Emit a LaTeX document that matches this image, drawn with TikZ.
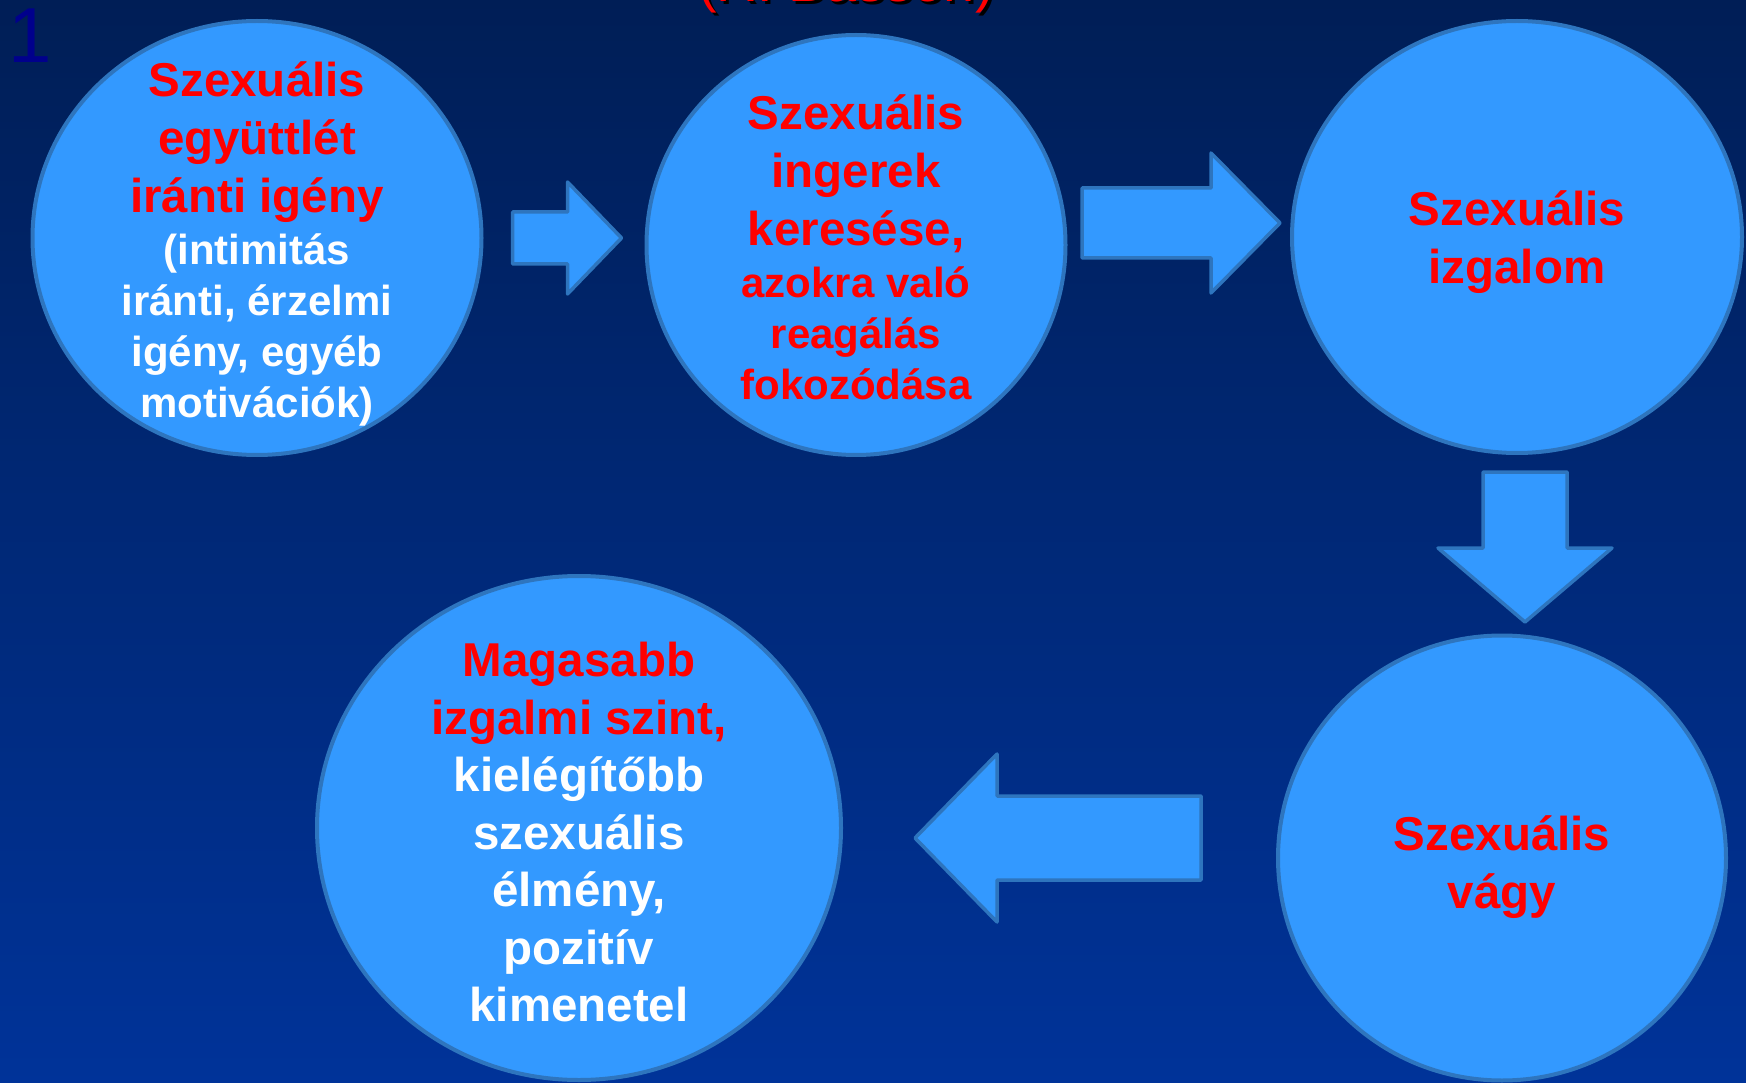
\documentclass[tikz,border=0pt]{standalone}
\usepackage{fontspec}
\setmainfont{Liberation Sans}
\usetikzlibrary{shapes.geometric}

\definecolor{bgtop}{RGB}{0,30,86}
\definecolor{bgbottom}{RGB}{0,51,153}
\definecolor{bubblefill}{RGB}{51,153,255}
\definecolor{bubbleline}{RGB}{46,117,190}
\definecolor{numblue}{RGB}{0,0,140}

\begin{document}
\begin{tikzpicture}[x=1pt,y=-1pt,
  bubble/.style={ellipse,draw=bubbleline,fill=bubblefill,line width=4pt,inner sep=0pt},
  bigarrow/.style={draw=bubbleline,fill=bubblefill,line width=3.5pt,line join=round},
  redbig/.style={text=red,font=\bfseries\fontsize{47.5}{58}\selectfont,align=center,inner sep=0pt},
  redsmall/.style={text=red,font=\bfseries\fontsize{42}{51}\selectfont,align=center,inner sep=0pt},
  whitebig/.style={text=white,font=\bfseries\fontsize{47.5}{57.5}\selectfont,align=center,inner sep=0pt},
  whitesmall/.style={text=white,font=\bfseries\fontsize{42}{51}\selectfont,align=center,inner sep=0pt}]
\useasboundingbox (0,0) rectangle (1746,1083);
\shade[top color=bgtop,bottom color=bgbottom] (0,0) rectangle (1746,1083);

\node[font=\fontsize{56}{60}\selectfont,anchor=base,inner sep=0pt,text=black] (titleshadow) at (849,5) {(R. Basson)};
\node[font=\fontsize{56}{60}\selectfont,anchor=base,inner sep=0pt,text=red] (title) at (846,2) {(R. Basson)};
\node[font=\fontsize{78}{80}\selectfont,anchor=base,inner sep=0pt,text=numblue] (num) at (30,63) {1};

\node[bubble,minimum width=449pt,minimum height=434pt] (c1) at (257,238) {};
\node[bubble,minimum width=419pt,minimum height=420pt] (c2) at (856,245) {};
\node[bubble,minimum width=450pt,minimum height=432pt] (c3) at (1517,237) {};
\node[bubble,minimum width=448pt,minimum height=445pt] (c4) at (1502,858) {};
\node[bubble,minimum width=524pt,minimum height=504pt] (c5) at (579,828) {};

\node[redbig] (t1) at ([yshift=96pt]c1.center) {Szexuális\\együttlét\\iránti igény};
\node[whitesmall] (t1b) at ([yshift=-91.6pt]c1.center) {(intimitás\\iránti, érzelmi\\igény, egyéb\\motivációk)};
\node[redbig] (t2) at ([yshift=71.7pt]c2.center) {Szexuális\\ingerek\\keresése,};
\node[redsmall] (t2b) at ([yshift=-87.9pt]c2.center) {azokra való\\reagálás\\fokozódása};
\node[redbig] (t3) at ([yshift=-5.3pt]c3.center) {Szexuális\\izgalom};
\node[redbig] (t4) at ([yshift=-8.8pt]c4.center) {Szexuális\\vágy};
\node[redbig] (t5) at ([yshift=134.9pt]c5.center) {Magasabb\\izgalmi szint,};
\node[whitebig] (t5b) at ([yshift=-61.6pt]c5.center) {kielégítőbb\\szexuális\\élmény,\\pozitív\\kimenetel};

% block arrows between the circles
\coordinate (a1) at ([xshift=29pt]c1.east);
\coordinate (a2) at ([xshift=14.5pt,yshift=22pt]c2.east);
\coordinate (a3) at ([xshift=8pt,yshift=-17pt]c3.south);
\coordinate (a4) at ([xshift=-75pt,yshift=20pt]c4.west);

\draw[bigarrow] (a1) ++(0,-26) -- ++(55,0) -- ++(0,-30) -- ++(54,56) -- ++(-54,56) -- ++(0,-30) -- ++(-55,0) -- cycle;
\draw[bigarrow] (a2) ++(0,-35) -- ++(129,0) -- ++(0,-35) -- ++(69,70) -- ++(-69,70) -- ++(0,-35) -- ++(-129,0) -- cycle;
\draw[bigarrow] (a3) ++(-42,0) -- ++(0,76) -- ++(-45,0) -- ++(87,74) -- ++(87,-74) -- ++(-45,0) -- ++(0,-76) -- cycle;
\draw[bigarrow] (a4) ++(0,-42) -- ++(-204,0) -- ++(0,-42) -- ++(-82,84) -- ++(82,84) -- ++(0,-42) -- ++(204,0) -- cycle;
\end{tikzpicture}
\end{document}
